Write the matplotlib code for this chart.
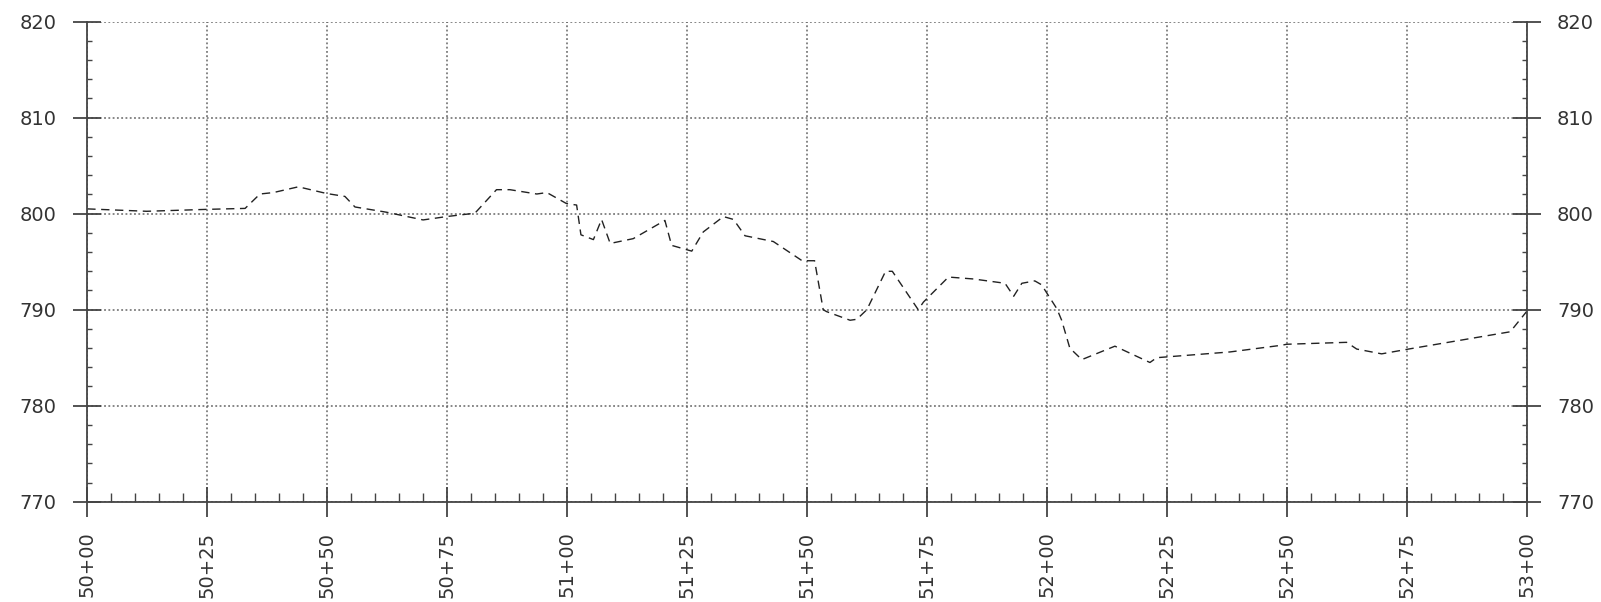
import matplotlib
matplotlib.use("Agg")
import matplotlib.pyplot as plt
import numpy as np
from matplotlib.ticker import MultipleLocator, FuncFormatter

# profile data: offset from station 50+00 (ft) and ground elevation (ft)
offset = [0, 12.4, 24.9, 32.9, 36.0, 38.8, 44.0, 49.9, 53.7, 55.8,
          62.4, 70.0, 74.9, 80.8, 85.3, 88.1, 93.7, 95.8, 99.9, 102.0,
          102.9, 105.5, 107.2, 109.0, 113.8, 120.4, 121.8, 126.0, 128.4, 132.6,
          134.7, 137.1, 143.0, 149.0, 151.6, 153.4, 154.1, 159.0, 160.4, 162.5,
          166.4, 167.8, 173.2, 174.3, 179.5, 184.7, 191.3, 193.1, 194.8, 197.5,
          198.9, 202.1, 203.1, 204.8, 207.3, 214.2, 221.5, 222.9, 238.2, 249.0,
          250.0, 262.5, 264.6, 269.8, 275.4, 296.6, 300.0]
elev = [800.5, 800.25, 800.45, 800.55, 802.05, 802.2, 802.8, 802.1, 801.8, 800.7,
        800.15, 799.35, 799.7, 800.05, 802.5, 802.5, 802.05, 802.2, 801.05, 800.9,
        797.8, 797.3, 799.4, 796.9, 797.4, 799.3, 796.7, 796.1, 798.1, 799.7,
        799.4, 797.7, 797.1, 795.1, 795.1, 790.0, 789.8, 788.9, 789.0, 790.0,
        794.0, 794.0, 790.0, 790.8, 793.4, 793.2, 792.75, 791.4, 792.75, 793.0,
        792.6, 790.1, 788.9, 786.0, 784.8, 786.2, 784.5, 785.0, 785.6, 786.3,
        786.4, 786.6, 785.9, 785.4, 785.9, 787.7, 789.8]

STA_START, STA_END = 5000, 5300
ELEV_MIN, ELEV_MAX = 770, 820

station = [STA_START + o for o in offset]


def sta_label(v, pos):
    v = int(round(v))
    return f"{v // 100}+{v % 100:02d}"


fig = plt.figure(figsize=(16.01, 6.02), dpi=100)
ax = fig.add_axes([0.0545, 0.1666, 0.899, 0.7974])

ax.plot(station, elev, color="#222222", lw=1.0, linestyle=(0, (6, 4)))

ax.set_xlim(STA_START, STA_END)
ax.set_ylim(ELEV_MIN, ELEV_MAX)

ax.xaxis.set_major_locator(MultipleLocator(25))
ax.xaxis.set_minor_locator(MultipleLocator(5))
ax.yaxis.set_major_locator(MultipleLocator(10))
ax.yaxis.set_minor_locator(MultipleLocator(2))
ax.xaxis.set_major_formatter(FuncFormatter(sta_label))

ax.grid(which="major", color="#666666", linestyle=(0, (1.2, 1.6)), lw=1.1)

tick_col = "#444444"
for side in ["left", "right", "bottom"]:
    ax.spines[side].set_color(tick_col)
    ax.spines[side].set_linewidth(1.3)
ax.spines["top"].set_visible(False)

ax.tick_params(axis="y", which="major", direction="inout", length=20,
               width=1.3, color=tick_col, left=True, right=True,
               labelleft=True, labelright=True, pad=12)
ax.tick_params(axis="y", which="minor", direction="in", length=3.3,
               width=1.0, color=tick_col, left=True, right=True)
ax.tick_params(axis="x", which="major", direction="inout", length=21,
               width=1.3, color=tick_col, top=False, pad=11)
ax.tick_params(axis="x", which="minor", direction="in", length=6.5,
               width=1.0, color=tick_col, top=False)

for lab in ax.get_yticklabels() + ax.get_xticklabels():
    lab.set_fontsize(14)
    lab.set_color("#333333")
for lab in ax.get_xticklabels():
    lab.set_rotation(90)

fig.savefig("out.png", dpi=100)
